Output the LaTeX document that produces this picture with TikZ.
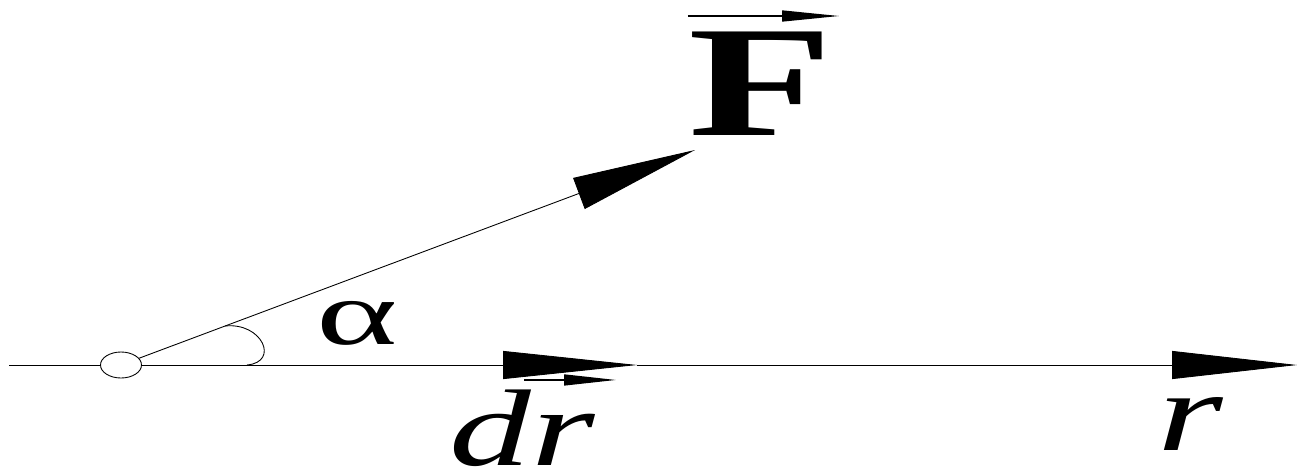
\documentclass[tikz,border=0pt]{standalone}
\usepackage{fontspec}
\setmainfont{Liberation Serif}
\usetikzlibrary{arrows.meta, shapes.geometric}

\begin{document}
\begin{tikzpicture}[x=0.2mm, y=-0.2mm, line width=0.5pt,
    bighead/.style={-{Triangle[length=#1, width=5.6mm]}},
    smallhead/.style={-{Triangle[length=#1, width=2.2mm]}, line width=0.8pt},
    lbl/.style={inner sep=0pt, anchor=base}]
    \useasboundingbox (0,0) rectangle (1297,475);

    % Origin and axis
    \node[draw, ellipse, minimum width=8.2mm, minimum height=5.2mm, inner sep=0pt] (O) at (121,365) {};
    \coordinate (axisstart) at (9,365);
    \coordinate (drtip) at (637,365);
    \coordinate (rtip) at (1297,365);
    \coordinate (Ftip) at (695,150);
    \draw (axisstart) -- (O);
    \draw[bighead=26.8mm] (O) -- (drtip);
    \draw[bighead=25mm] (drtip) -- (rtip);

    % Force
    \draw[-{Triangle[length=24.8mm, width=6.6mm]}] (O) -- (Ftip);

    % Angle
    \draw (225,326) .. controls (262,322) and (280,362) .. (247,365);

    % Labels
    \node[lbl, font=\fontsize{52}{52}\selectfont, xscale=1.7] (alpha) at (357,344) {α};
    \node[lbl, font=\fontsize{90}{90}\selectfont\bfseries, xscale=1.5] (F) at (761,135) {F};
    \node[lbl, font=\fontsize{62}{62}\selectfont\itshape, xscale=1.5] (dr) at (522,465) {dr};
    \node[lbl, font=\fontsize{64}{64}\selectfont\itshape, xscale=1.5] (r) at (1190,450) {r};
    \draw[smallhead=11.4mm] ([xshift=0mm, yshift=3mm]F.north west) -- ([xshift=1mm, yshift=3mm]F.north east);
    \draw[smallhead=10.4mm] ([xshift=0.4mm, yshift=1.8mm]dr.north) -- ([xshift=18.8mm, yshift=1.8mm]dr.north);
\end{tikzpicture}
\end{document}
